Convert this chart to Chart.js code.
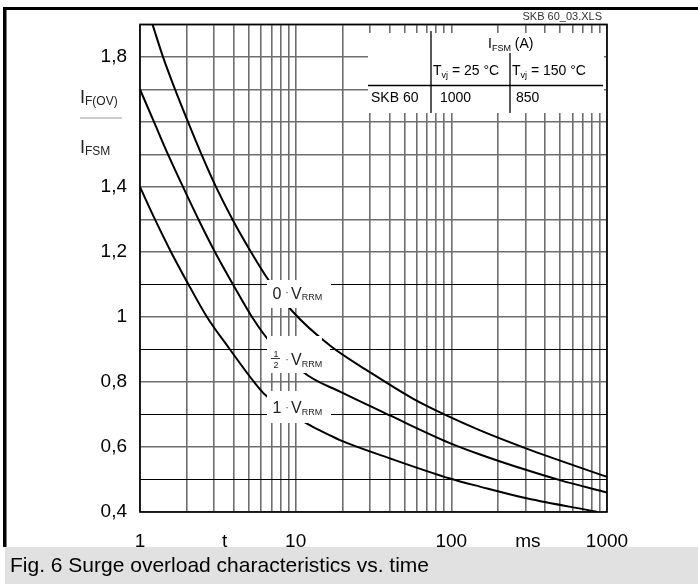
<!DOCTYPE html>
<html><head><meta charset="utf-8">
<script src="https://cdn.jsdelivr.net/npm/chart.js@4/dist/chart.umd.min.js"></script>
<style>html,body{margin:0;padding:0;background:#fff}</style>
</head><body>
<canvas id="c" width="698" height="584"></canvas>
<script>
// ---- data ----
const curve0T = [1.203, 1.405, 1.679, 2.034, 2.483, 3.077, 3.928, 5.164, 6.64, 9.43, 16.61, 30.0, 57, 93, 153, 304.4, 1000];
const curve0V = [1.90, 1.80, 1.70, 1.60, 1.50, 1.40, 1.30, 1.20, 1.116, 1.02, 0.912, 0.83, 0.748, 0.697, 0.651, 0.595, 0.508];
const curveHalfT = [1, 1.23, 1.513, 1.889, 2.375, 3.03, 3.957, 5.241, 6.94, 11.99, 19.26, 40.3, 97.9, 152.7, 304.4, 498, 1000];
const curveHalfV = [1.70, 1.60, 1.50, 1.40, 1.30, 1.20, 1.10, 1.00, 0.92, 0.82, 0.77, 0.697, 0.612, 0.577, 0.529, 0.498, 0.46];
const curve1T = [1, 1.248, 1.582, 2.049, 2.693, 3.784, 5.398, 6.256, 12.33, 16.61, 19.26, 40.3, 97.9, 152.7, 304.4, 857];
const curve1V = [1.40, 1.30, 1.20, 1.10, 1.00, 0.90, 0.80, 0.764, 0.667, 0.636, 0.621, 0.565, 0.503, 0.478, 0.442, 0.401];

const xGridValues = [1,2,3,4,5,6,7,8,9,10,20,30,40,50,60,70,80,90,100,200,300,400,500,600,700,800,900,1000];
const xLabelValues = [1, 10, 100, 1000];
const xUnitTicks = [3.5, 310];
const xUnitLabels = ['t', 'ms'];
const yGridValues = [0.4,0.5,0.6,0.7,0.8,0.9,1.0,1.1,1.2,1.3,1.4,1.5,1.6,1.7,1.8,1.9];
const yLabelValues = [0.4, 0.6, 0.8, 1.0, 1.2, 1.4, 1.8];
const yBlackLines = [0.5, 0.7, 0.9, 1.1];

const FONT = "'Liberation Sans', Arial, Helvetica, sans-serif";
const near = (a, b) => Math.abs(a - b) < 1e-6;
const pts = (T, V) => T.map((t, i) => ({x: t, y: V[i]}));

function runs(ctx, x, y, parts, color) {
  ctx.fillStyle = color || '#000';
  ctx.textBaseline = 'alphabetic';
  ctx.textAlign = 'left';
  let cx = x;
  for (const [txt, size, dy] of parts) {
    ctx.font = size + 'px ' + FONT;
    ctx.fillText(txt, cx, y + (dy || 0));
    cx += ctx.measureText(txt).width;
  }
  return cx;
}

const decor = {
  id: 'decor',
  beforeDraw(chart) {
    const ctx = chart.ctx;
    ctx.save();
    ctx.fillStyle = '#fff';
    ctx.fillRect(0, 0, 698, 584);
    ctx.fillStyle = '#000';
    ctx.fillRect(3, 7, 695, 3);
    ctx.fillRect(3, 7, 3.5, 540);
    ctx.fillStyle = '#e1e1e1';
    ctx.fillRect(5, 547, 693, 37);
    ctx.restore();
  },
  afterDatasetsDraw(chart) {
    const ctx = chart.ctx;
    const a = chart.chartArea;
    ctx.save();
    // white areas
    ctx.fillStyle = '#fff';
    ctx.fillRect(368, 33, 236, 80);       // table
    ctx.fillRect(267, 280, 64, 28);       // 0 VRRM
    ctx.fillRect(267, 336, 55, 37);       // 1/2 VRRM
    ctx.fillRect(318, 347, 12, 6);
    ctx.fillRect(267, 391, 64, 32);       // 1 VRRM
    // table lines
    ctx.strokeStyle = '#000';
    ctx.lineWidth = 1.3;
    ctx.beginPath();
    ctx.moveTo(431, 31); ctx.lineTo(431, 113);
    ctx.moveTo(510, 53); ctx.lineTo(510, 113);
    ctx.moveTo(368, 85.5); ctx.lineTo(603, 85.5);
    ctx.stroke();
    // table text
    runs(ctx, 488, 47.5, [['I', 14], ['FSM', 9, 3], [' (A)', 14]]);
    runs(ctx, 433, 75, [['T', 14], ['vj', 9, 3], [' = 25 °C', 14]]);
    runs(ctx, 512, 75, [['T', 14], ['vj', 9, 3], [' = 150 °C', 14]]);
    runs(ctx, 371, 102, [['SKB 60', 14]]);
    runs(ctx, 440, 102, [['1000', 14]]);
    runs(ctx, 516, 102, [['850', 14]]);
    // curve labels
    const lc = '#222';
    runs(ctx, 272.5, 298.5, [['0', 16]], lc);
    runs(ctx, 285, 296, [['·', 12]], '#555');
    runs(ctx, 291, 298.5, [['V', 16], ['RRM', 9, 1.5]], lc);
    ctx.fillStyle = lc;
    ctx.font = '9px ' + FONT;
    ctx.textAlign = 'center';
    ctx.fillText('1', 276, 357);
    ctx.fillText('2', 276, 368);
    ctx.fillRect(271, 358, 9, 0.9);
    runs(ctx, 285, 362.5, [['·', 12]], '#555');
    runs(ctx, 291, 365, [['V', 16], ['RRM', 9, 1.5]], lc);
    runs(ctx, 272.5, 413, [['1', 16]], lc);
    runs(ctx, 285, 410.5, [['·', 12]], '#555');
    runs(ctx, 291, 413, [['V', 16], ['RRM', 9, 1.5]], lc);
    // plot border
    ctx.strokeStyle = '#000';
    ctx.lineWidth = 1.6;
    ctx.strokeRect(a.left, a.top, a.right - a.left, a.bottom - a.top);
    ctx.restore();
  },
  afterDraw(chart) {
    const ctx = chart.ctx;
    ctx.save();
    ctx.fillStyle = '#333';
    ctx.font = '11px ' + FONT;
    ctx.textAlign = 'right';
    ctx.textBaseline = 'alphabetic';
    ctx.fillText('SKB 60_03.XLS', 602, 19.5);
    runs(ctx, 80, 103, [['I', 18], ['F(OV)', 12, 2]], '#222');
    ctx.fillStyle = '#999';
    ctx.fillRect(80, 117.5, 42, 1);
    runs(ctx, 80, 153, [['I', 18], ['FSM', 12, 2]], '#222');
    ctx.fillStyle = '#000';
    ctx.font = '21px ' + FONT;
    ctx.textAlign = 'left';
    ctx.fillText('Fig. 6 Surge overload characteristics vs. time', 10, 572);
    ctx.restore();
  }
};

const lineDs = (label, T, V) => ({
  label, data: pts(T, V), borderColor: '#000', borderWidth: 2, pointRadius: 0,
  fill: false, cubicInterpolationMode: 'monotone'
});

new Chart(document.getElementById('c'), {
  type: 'line',
  data: {
    datasets: [
      lineDs('0 · VRRM', curve0T, curve0V),
      lineDs('1/2 · VRRM', curveHalfT, curveHalfV),
      lineDs('1 · VRRM', curve1T, curve1V)
    ]
  },
  options: {
    responsive: false,
    animation: false,
    devicePixelRatio: 1,
    layout: {padding: {top: 22, right: 91, left: 0, bottom: 0}},
    plugins: {legend: {display: false}, tooltip: {enabled: false}},
    scales: {
      x: {
        type: 'logarithmic', min: 1, max: 1000,
        afterBuildTicks: s => { s.ticks = xGridValues.concat(xUnitTicks).sort((p, q) => p - q).map(v => ({value: v})); },
        afterFit: s => { s.height = 72; },
        border: {display: false},
        grid: {
          drawTicks: false,
          color: c => (c.tick && xUnitTicks.includes(c.tick.value)) ? 'rgba(0,0,0,0)' : '#6e6e6e',
          lineWidth: c => (c.tick && xUnitTicks.includes(c.tick.value)) ? 0 : 1.6
        },
        ticks: {
          autoSkip: false, maxRotation: 0, padding: 18, color: '#000',
          font: {family: FONT, size: 19},
          callback: v => {
            const i = xUnitTicks.indexOf(v);
            if (i >= 0) return xUnitLabels[i];
            return xLabelValues.includes(v) ? String(v) : '';
          }
        }
      },
      y: {
        type: 'linear', min: 0.4, max: 1.9,
        afterBuildTicks: s => { s.ticks = yGridValues.map(v => ({value: v})); },
        afterFit: s => { s.width = 140; },
        border: {display: false},
        grid: {
          drawTicks: false,
          color: c => (c.tick && yBlackLines.some(b => near(b, c.tick.value))) ? '#000' : '#6e6e6e',
          lineWidth: c => (c.tick && yBlackLines.some(b => near(b, c.tick.value))) ? 1 : 1.6
        },
        ticks: {
          autoSkip: false, padding: 13, color: '#000',
          font: {family: FONT, size: 19},
          callback: v => yLabelValues.some(l => near(l, v)) ? String(+v.toFixed(1)).replace('.', ',') : ''
        }
      }
    }
  },
  plugins: [decor]
});
</script>
</body></html>
